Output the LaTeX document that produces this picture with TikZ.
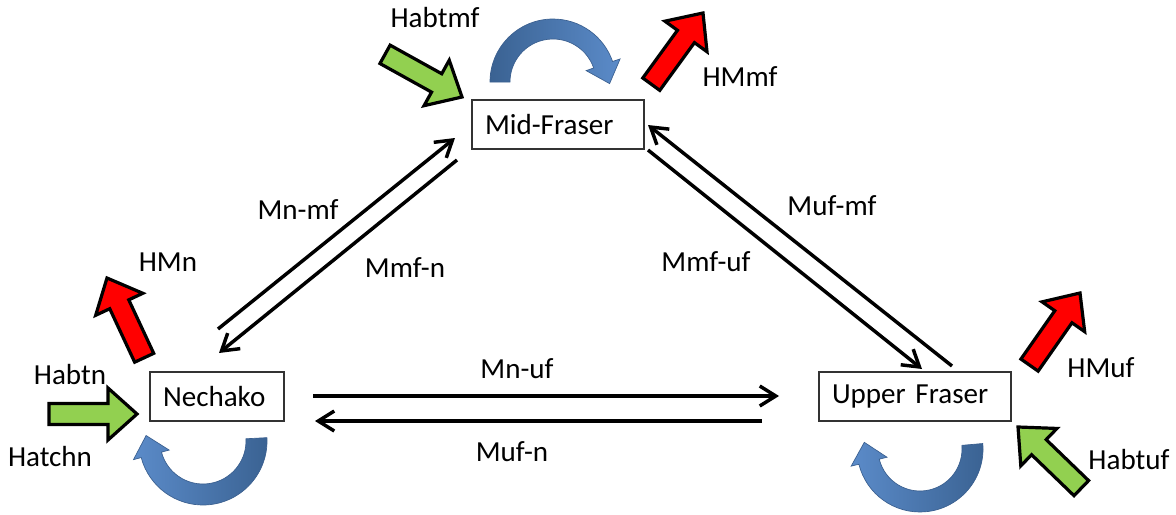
\documentclass[tikz,border=0pt]{standalone}
\usepackage{fontspec}
\setmainfont{Carlito}
\usetikzlibrary{arrows.meta}
\definecolor{bluedark}{HTML}{3A6292}
\definecolor{bluelight}{HTML}{5B8BC9}
\definecolor{loopedge}{HTML}{3A5F8F}
\definecolor{grn}{HTML}{92D050}
\definecolor{rd}{HTML}{FF0000}
\newcommand{\blockarr}[4]{%
  \path[barrow,fill=#4,shift={(#1,#2)},rotate=#3]
    (0,0) -- (-29,26) -- (-29,10.5) -- (-88,10.5) -- (-88,-10.5) -- (-29,-10.5) -- (-29,-26) -- cycle;}
\begin{document}
\begin{tikzpicture}[x=0.75pt,y=0.75pt,
  txt/.style={font=\fontsize{21.8}{24}\selectfont},
  box/.style={txt,draw=black!80,line width=0.9pt,fill=white,minimum height=36.75pt,inner xsep=9.75pt,inner ysep=0pt,align=left},
  lbl/.style={txt,inner sep=0pt},
  flow/.style={line width=2.6pt,-{Straight Barb[length=12pt,width=15pt]}},
  barrow/.style={draw=black,line width=2.4pt,line join=miter},
  loopband/.style={draw=loopedge,line width=0.5pt,shading=axis}
]
\useasboundingbox (0,0) rectangle (1176,-514);

% boxes
\node[box,text width=109.5pt] (mf) at (558,-124.5) {Mid-Fraser};
\node[box,text width=81pt] (ne) at (217,-396.5) {Nechako};
\node[box,text width=124.5pt] (uf) at (915,-396.5) {Upper Fraser};

% flow connectors
\coordinate (a1) at (218,-329); \coordinate (a2) at (455,-138);
\coordinate (b1) at (457,-160); \coordinate (b2) at (219,-353);
\coordinate (c1) at (952,-366); \coordinate (c2) at (648,-125);
\coordinate (d1) at (648,-150); \coordinate (d2) at (922,-369);
\coordinate (e1) at (313,-396); \coordinate (e2) at (779,-396);
\coordinate (f1) at (762,-421); \coordinate (f2) at (315,-421);
\draw[flow] (a1) -- (a2);
\draw[flow] (b1) -- (b2);
\draw[flow] (c1) -- (c2);
\draw[flow] (d1) -- (d2);
\draw[flow] (e1) -- (e2);
\draw[flow] (f1) -- (f2);

% connector labels
\node[lbl] (lmnmf) at (298,-210) {Mn-mf};
\node[lbl] (lmmfn) at (405,-268) {Mmf-n};
\node[lbl] (lmufmf) at (832,-206) {Muf-mf};
\node[lbl] (lmmfuf) at (706,-262) {Mmf-uf};
\node[lbl] (lmnuf) at (517,-369) {Mn-uf};
\node[lbl] (lmufn) at (512,-452) {Muf-n};

% block arrows
\blockarr{462}{-97}{-29}{grn}
\blockarr{703}{-13}{54}{rd}
\blockarr{107}{-278}{115}{rd}
\blockarr{137}{-414}{0}{grn}
\blockarr{1018}{-427}{136}{grn}
\blockarr{1080}{-293}{55}{rd}

% block arrow labels
\node[lbl] (lhmn) at (168,-262) {HMn};
\node[lbl] (lhabtn) at (70,-375) {Habtn};
\node[lbl] (lhatchn) at (50,-457) {Hatchn};
\node[lbl] (lhabtmf) at (435,-18) {Habtmf};
\node[lbl] (lhmmf) at (740,-77) {HMmf};
\node[lbl] (lhmuf) at (1101,-368) {HMuf};
\node[lbl] (lhabtuf) at (1129,-460) {Habtuf};

% curved self arrows
\begin{scope}[shift={(553,-82)}]
\path[loopband,left color=bluedark,right color=bluelight]
  (180:63) arc[start angle=180,end angle=19,radius=63] -- (19:71) -- (56.6,-1.6)
  -- (19:35) -- (19:43) arc[start angle=19,end angle=180,radius=43] -- cycle;
\end{scope}
\begin{scope}[shift={(203,-441)}]
\path[loopband,left color=bluelight,right color=bluedark]
  (3:64) arc[start angle=3,end angle=-165,radius=64] -- (-165:72) -- (-56.9,5.5)
  -- (-165:35) -- (-165:43) arc[start angle=-165,end angle=3,radius=43] -- cycle;
\end{scope}
\begin{scope}[shift={(920,-449)}]
\path[loopband,left color=bluelight,right color=bluedark]
  (5:63) arc[start angle=5,end angle=-166,radius=63] -- (-166:71) -- (-55.7,6.7)
  -- (-166:34) -- (-166:42) arc[start angle=-166,end angle=5,radius=42] -- cycle;
\end{scope}
\end{tikzpicture}
\end{document}
